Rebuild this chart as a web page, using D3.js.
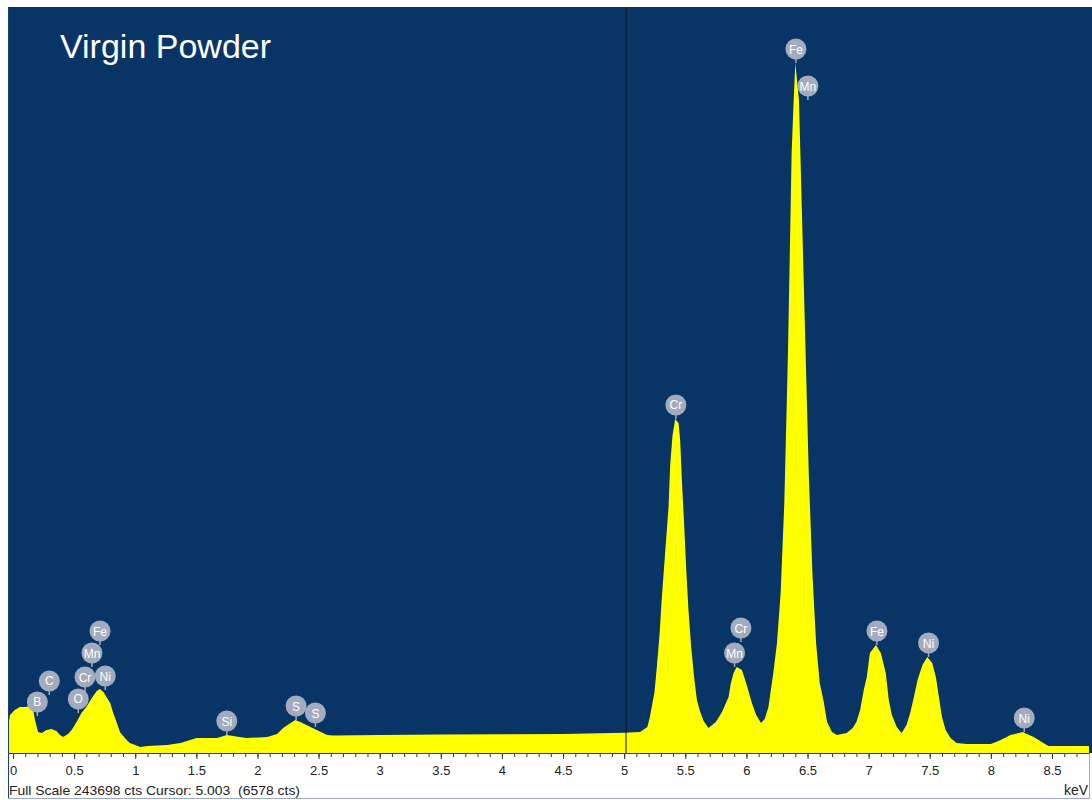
<html>
<head>
<script src="https://d3js.org/d3.v7.min.js"></script>
<style>
  body { margin: 0; background: #fff; }
  svg { display: block; }
</style>
</head>
<body>
<svg id="chart" width="1092" height="800"></svg>
<script>
// spectrum (keV / counts)
var energy = [-0.04, -0.025, 0.015, 0.055, 0.10, 0.14, 0.165, 0.18, 0.205, 0.235, 0.275, 0.315, 0.355, 0.385, 0.41, 0.45, 0.48,
  0.52, 0.56, 0.60, 0.645, 0.685, 0.71, 0.74, 0.765, 0.795, 0.82, 0.85, 0.875, 0.915, 0.955, 1.0, 1.04, 1.1, 1.26, 1.37, 1.45,
  1.50, 1.585, 1.67, 1.75, 1.80, 1.91, 2.08, 2.16, 2.21, 2.27, 2.31, 2.35, 2.40, 2.485, 2.57, 2.62, 3.0, 3.5, 4.0, 4.5, 5.0,
  5.13, 5.19, 5.21, 5.248, 5.267, 5.289, 5.308, 5.335, 5.363, 5.376, 5.395, 5.417, 5.445, 5.458, 5.472, 5.49, 5.507, 5.526,
  5.548, 5.573, 5.595, 5.62, 5.65, 5.69, 5.75, 5.80, 5.854, 5.873, 5.895, 5.92, 5.963, 5.99, 6.017, 6.045, 6.08, 6.12, 6.15, 6.18,
  6.22, 6.25, 6.28, 6.31, 6.34, 6.37, 6.385, 6.40, 6.43, 6.45, 6.48, 6.51, 6.54, 6.57, 6.60, 6.63, 6.66, 6.70, 6.74, 6.82,
  6.87, 6.90, 6.93, 6.96, 6.985, 7.01, 7.06, 7.10, 7.14, 7.165, 7.19, 7.23, 7.27, 7.31, 7.34, 7.37, 7.40, 7.44, 7.48, 7.52,
  7.55, 7.575, 7.60, 7.63, 7.67, 7.72, 7.80, 8.0, 8.08, 8.16, 8.26, 8.35, 8.43, 8.47, 8.81];

var counts = [8490, 12410, 14050, 15030, 15030, 15350, 14050, 10780, 6860, 6530, 7510, 7840, 7190, 5880, 5230, 6210, 7510,
  10130, 13070, 15030, 17970, 20250, 20910, 19930, 18290, 16330, 13070, 9800, 6860, 4900, 3270, 2610, 1960, 2290, 2610, 3270, 4250,
  4900, 4900, 4900, 5880, 5550, 4900, 5230, 6210, 8170, 9800, 10780, 10130, 9150, 7510, 5880, 5720, 5880, 6040, 6110, 6210, 6578,
  6860, 8490, 11760, 19930, 28090, 38550, 50630, 65330, 80360, 93750, 103550, 109110, 107800, 102250, 89180, 75130, 60430, 46710,
  34630, 24500, 17310, 13720, 10450, 8170, 10130, 13390, 18290, 22870, 26130, 28090, 27110, 23850, 20250, 16330, 12410, 9800, 11110, 15030,
  26130, 35930, 52270, 81670, 130670, 196000, 211680, 225400, 213310, 182930, 137200, 91470, 58800, 35930, 22870, 17310, 10130, 6860, 5880, 6530,
  8170, 10130, 14050, 20580, 24830, 32670, 35280, 32670, 26130, 17310, 12410, 8490, 6530, 9150, 13070, 18290, 23850, 28750, 31360, 29400,
  24830, 18290, 11760, 7510, 4900, 3270, 2940, 2940, 4250, 5880, 6860, 5230, 3270, 2290, 2290];

// peak markers: element, energy (keV), counts where the stem ends
var markerElements = ["B", "C", "O", "Cr", "Mn", "Fe", "Ni", "Si", "S", "S", "Cr", "Cr", "Mn", "Fe", "Mn", "Fe", "Ni", "Ni"];
var markerEnergy = [0.199, 0.297, 0.534, 0.589, 0.646, 0.712, 0.755, 1.749, 2.316, 2.474, 5.423, 5.955, 5.903, 6.405, 6.503, 7.068, 7.49, 8.273];
var markerCounts = [12090, 18950, 13070, 20250, 28090, 35280, 20580, 5880, 10780, 8490, 109110, 36260, 28090, 225400, 213310, 35280, 31360, 6860];

var axisTicks = [0, 0.5, 1, 1.5, 2, 2.5, 3, 3.5, 4, 4.5, 5, 5.5, 6, 6.5, 7, 7.5, 8, 8.5];
var fullScale = 243698;
var cursorKeV = 5.003, cursorCounts = 6578;

var plotLeft = 8, plotTop = 7, plotRight = 1092, plotBase = 753;
var font = "Liberation Sans, Arial, sans-serif";

var svg = d3.select("#chart");

var x = d3.scaleLinear().domain([0, 8.5]).range([13, 1052]);
var y = d3.scaleLinear().domain([0, fullScale]).range([plotBase, plotTop]);

svg.append("rect")
  .attr("x", plotLeft).attr("y", plotTop)
  .attr("width", plotRight - plotLeft).attr("height", plotBase - plotTop)
  .attr("fill", "#083466");

svg.append("clipPath").attr("id", "plotclip")
  .append("rect").attr("x", plotLeft).attr("y", plotTop).attr("width", 1089 - plotLeft).attr("height", plotBase - plotTop);

var spectrum = energy.map(function(e, i) { return { e: e, c: counts[i] }; });

var area = d3.area()
  .x(function(d) { return x(d.e); })
  .y0(plotBase)
  .y1(function(d) { return y(d.c); });

svg.append("path")
  .datum(spectrum)
  .attr("clip-path", "url(#plotclip)")
  .attr("fill", "#ffff00")
  .attr("d", area);

// cursor
svg.append("line")
  .attr("x1", x(cursorKeV) + 1.5).attr("x2", x(cursorKeV) + 1.5)
  .attr("y1", plotTop).attr("y2", plotBase)
  .attr("stroke", "#1a1a1a").attr("stroke-width", 1);

// axis
var minor = d3.range(0, 88).map(function(i) { return i / 10; });
svg.append("g")
  .attr("transform", "translate(0," + plotBase + ")")
  .call(d3.axisBottom(x).tickValues(minor).tickSize(4).tickFormat(""))
  .call(function(g) { g.select(".domain").remove(); })
  .selectAll("line").attr("stroke", "#333");

var ax = svg.append("g")
  .attr("transform", "translate(0," + plotBase + ")")
  .call(d3.axisBottom(x).tickValues(axisTicks).tickSize(6).tickPadding(7).tickFormat(d3.format("~g")));
ax.select(".domain").remove();
ax.selectAll("line").attr("stroke", "#333");
ax.selectAll("text").attr("font-family", font).attr("font-size", 13).attr("fill", "#222");

svg.append("line")
  .attr("x1", plotLeft).attr("x2", 1090).attr("y1", plotBase + 0.5).attr("y2", plotBase + 0.5)
  .attr("stroke", "#333");

// frame
svg.append("line").attr("x1", plotLeft + 0.5).attr("x2", plotLeft + 0.5).attr("y1", plotTop).attr("y2", 799).attr("stroke", "#16407a");
svg.append("line").attr("x1", 1089.5).attr("x2", 1089.5).attr("y1", plotBase).attr("y2", 799).attr("stroke", "#a0aabb");
svg.append("line").attr("x1", plotLeft).attr("x2", 1090).attr("y1", 798.5).attr("y2", 798.5).attr("stroke", "#a0aabb");

svg.append("text")
  .attr("x", 1088).attr("y", 795)
  .attr("text-anchor", "end")
  .attr("font-family", font).attr("font-size", 14).attr("fill", "#222")
  .text("keV");

svg.append("text")
  .attr("x", 9).attr("y", 795)
  .attr("font-family", font).attr("font-size", 13.5).attr("fill", "#222")
  .attr("textLength", 291).attr("lengthAdjust", "spacingAndGlyphs")
  .style("white-space", "pre")
  .text("Full Scale " + fullScale + " cts Cursor: " + cursorKeV.toFixed(3) + "  (" + cursorCounts + " cts)");

// title
svg.append("text")
  .attr("x", 60).attr("y", 58)
  .attr("font-family", font).attr("font-size", 34).attr("fill", "#fff")
  .text("Virgin Powder");

// markers
var markers = svg.append("g").selectAll("g")
  .data(markerElements.map(function(el, i) { return { el: el, e: markerEnergy[i], c: markerCounts[i] }; }))
  .join("g")
  .attr("transform", function(d) { return "translate(" + x(d.e) + "," + y(d.c) + ")"; });

markers.append("line")
  .attr("x1", 0).attr("x2", 0).attr("y1", 0).attr("y2", -6)
  .attr("stroke", "#a3acbe").attr("stroke-width", 1.5);

markers.append("circle")
  .attr("cx", 0).attr("cy", -14).attr("r", 10.5)
  .attr("fill", "#a3acbe");

markers.append("text")
  .attr("x", 0).attr("y", -9.5)
  .attr("text-anchor", "middle")
  .attr("font-family", font).attr("font-size", 12).attr("fill", "#fff")
  .text(function(d) { return d.el; });
</script>
</body>
</html>
